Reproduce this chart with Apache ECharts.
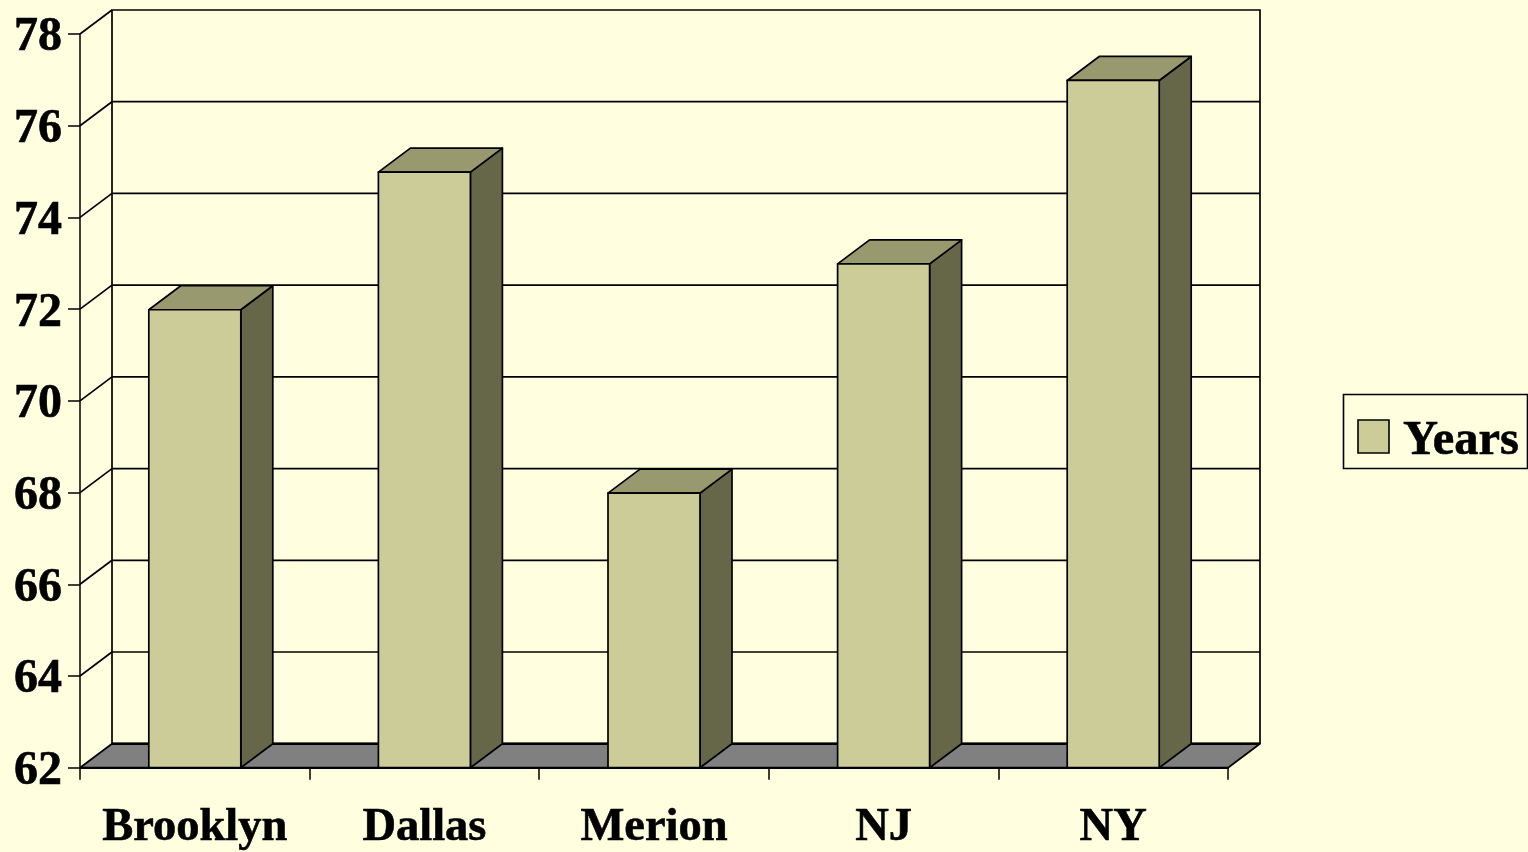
<!DOCTYPE html>
<html><head><meta charset="utf-8">
<style>html,body{margin:0;padding:0;background:#ffffe0}#c{width:1528px;height:852px}</style>
<script src="https://cdn.jsdelivr.net/npm/echarts@6/dist/echarts.min.js"></script>
</head><body><div id="c"></div>
<script>
var categories = ['Brooklyn','Dallas','Merion','NJ','NY'];
var years = [72, 75, 68, 73, 77];
var yTicks = [62,64,66,68,70,72,74,76,78];
var seriesName = 'Years';
var DX = 32, DY = -24, BAR = 92, LW = 1.7;
var F = '"Liberation Serif","Times New Roman",serif';
var chart = echarts.init(document.getElementById('c'));
function poly(pts, fill){
  return {type:'polygon',shape:{points:pts},style:{fill:fill,stroke:'#000',lineWidth:LW,lineJoin:'round'}};
}
function seg(a,b,c,d,w){
  return {type:'line',shape:{x1:a,y1:b,x2:c,y2:d},style:{stroke:'#000',lineWidth:w||LW}};
}
chart.setOption({
  backgroundColor:'#ffffe0',
  animation:false,
  legend:{show:false},
  grid:{left:80,right:300,top:34,bottom:84,containLabel:false},
  xAxis:{type:'category',data:categories,boundaryGap:true,
    axisLine:{show:true,lineStyle:{color:'#000',width:2}},
    axisTick:{show:true,alignWithLabel:false,length:12,lineStyle:{color:'#000',width:1.5}},
    axisLabel:{interval:0,color:'#000',fontFamily:F,fontWeight:'bold',fontSize:46.5,margin:37,
      textBorderColor:'#000',textBorderWidth:0.6}},
  yAxis:{type:'value',min:62,max:78,interval:2,
    splitLine:{show:false},
    axisLine:{show:true,lineStyle:{color:'#000',width:1.5}},
    axisTick:{show:true,length:12,lineStyle:{color:'#000',width:1.5}},
    axisLabel:{color:'#000',fontFamily:F,fontWeight:'bold',fontSize:48,margin:18,verticalAlign:'top',lineHeight:8,
      textBorderColor:'#000',textBorderWidth:0.6}},
  series:[
    {type:'custom',name:'wall',silent:true,z:1,data:[0],
     renderItem:function(p,api){
       var w=api.size([1,0])[0];
       var x0=api.coord([0,62])[0]-w/2, x1=x0+w*categories.length;
       var yb=api.coord([0,62])[1], yt=api.coord([0,78])[1];
       var ch=[];
       ch.push(poly([[x0,yb],[x0+DX,yb+DY],[x1+DX,yb+DY],[x1,yb]],'#808080'));
       ch.push(seg(x0+DX,yb+DY,x1+DX,yb+DY,2.4));
       ch.push({type:'polyline',shape:{points:[[x0+DX,yb+DY],[x0+DX,yt+DY],[x1+DX,yt+DY],[x1+DX,yb+DY]]},style:{fill:null,stroke:'#000',lineWidth:LW}});
       ch.push(seg(x0,yt,x0+DX,yt+DY));
       yTicks.forEach(function(t){
         var y=api.coord([0,t])[1];
         if(t>62&&t<78){
           ch.push(seg(x0+DX,y+DY,x1+DX,y+DY));
           ch.push(seg(x0,y,x0+DX,y+DY));
         }
       });
       return {type:'group',children:ch};
     }},
    {type:'custom',name:seriesName,z:3,data:years.map(function(v,i){return [i,v];}),encode:{x:0,y:1},
     renderItem:function(p,api){
       var c=api.coord([api.value(0),api.value(1)]), b=api.coord([api.value(0),62]);
       var l=c[0]-BAR/2, r=c[0]+BAR/2, t=c[1]+0.6, y=b[1];
       return {type:'group',children:[
         poly([[r,t],[r+DX,t+DY],[r+DX,y+DY],[r,y]],'#666648'),
         poly([[l,t],[l+DX,t+DY],[r+DX,t+DY],[r,t]],'#999970'),
         poly([[l,t],[r,t],[r,y],[l,y]],'#cccc99')
       ]};
     }}
  ],
  graphic:[
    {type:'rect',shape:{x:1343.5,y:394.5,width:184,height:74},style:{fill:'#ffffe0',stroke:'#000',lineWidth:1.6}},
    {type:'rect',shape:{x:1358,y:420,width:31,height:33},style:{fill:'#cccc99',stroke:'#000',lineWidth:1.6}},
    {type:'text',x:1403,y:441,style:{text:seriesName,fontFamily:F,fontWeight:'bold',fontSize:48.5,fill:'#000',stroke:'#000',lineWidth:0.6,verticalAlign:'middle'}}
  ]
});
</script></body></html>
